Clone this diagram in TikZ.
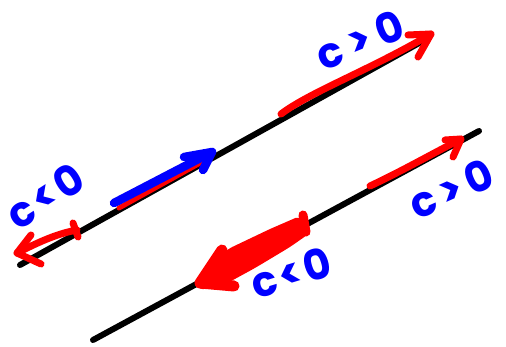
\documentclass[tikz,border=0pt]{standalone}
\usepackage{fontspec}
\newfontfamily\hand{Poppins}
\definecolor{pred}{RGB}{255,0,0}
\definecolor{pblue}{RGB}{0,0,255}
\begin{document}
\begin{tikzpicture}[x=1pt,y=-1pt,
  axis/.style={draw=black,line width=6pt,line cap=round},
  redstroke/.style={draw=pred,line width=7pt,line cap=round,line join=round},
  bluestroke/.style={draw=pblue,line width=8.5pt,line cap=round,line join=round},
  lbl/.style={text=pblue,font=\hand\bfseries\fontsize{42}{42}\selectfont,inner sep=0pt}]
\useasboundingbox (0,0) rectangle (506,347);
% black lines
\coordinate (a1) at (20,265);
\coordinate (a2) at (421,42);
\coordinate (b1) at (93,340);
\coordinate (b2) at (479,131);
\draw[axis] (a1) -- (a2);
\draw[axis] (b1) -- (b2);
% upper-left red arrow (c<0)
\coordinate (ulT) at (77,230);
\coordinate (ulH) at (17,253);
\coordinate (ulA) at (31,235);
\coordinate (ulB) at (41,264);
\coordinate (ulK1) at (73,223);
\coordinate (ulK2) at (78,237);
\draw[redstroke] (ulT) .. controls (55,234) and (35,244) .. (ulH);
\draw[redstroke] (ulA) -- (ulH) -- (ulB);
\draw[redstroke] (ulK1) -- (ulK2);
% blue arrow with red under
\coordinate (bT) at (114,203);
\coordinate (bH) at (212,152);
\coordinate (rT) at (119,208);
\coordinate (rH) at (211,157);
\coordinate (bA) at (184,157);
\coordinate (bB) at (203,170);
\draw[redstroke,line width=5pt] (rT) -- (rH);
\draw[redstroke,line width=5pt] (207,161) -- (204,170);
\draw[bluestroke] (bT) -- (bH);
\draw[bluestroke] (bA) -- (bH) -- (bB);
% upper right red arrow (c>0)
\coordinate (urT) at (281,114);
\coordinate (urH) at (431,34);
\coordinate (urA) at (408,35);
\coordinate (urB) at (418,57);
\draw[redstroke] (urT) .. controls (310,92) and (370,70) .. (urH);
\draw[redstroke] (urA) -- (urH) -- (urB);
% lower right red arrow (c>0)
\coordinate (lrT) at (370,186);
\coordinate (lrH) at (461,139);
\coordinate (lrA) at (445,140);
\coordinate (lrB) at (453,157);
\draw[redstroke] (lrT) .. controls (400,172) and (430,155) .. (lrH);
\draw[redstroke] (lrA) -- (lrH) -- (lrB);
% big lower-left red arrow (c<0)
\coordinate (llT) at (305,224);
\coordinate (llH) at (200,283);
\coordinate (llA) at (222,250);
\coordinate (llB) at (234,286);
\fill[pred,rounded corners=5pt] (300,216) -- (270,229) -- (228,249) -- (203,272) -- (198,290) -- (222,286) -- (255,268) -- (290,247) -- (310,233) -- cycle;
\draw[redstroke,line width=11pt] (llA) -- (llH) -- (llB);
\draw[redstroke,line width=9pt] (303,215) -- (306,232);
% labels
\node[lbl,rotate=33] (t1) at (45,196) {\addfontfeature{LetterSpace=8}c<0};
\node[lbl,rotate=22] (t2) at (360,40) {\addfontfeature{LetterSpace=18}c>0};
\node[lbl,rotate=24] (t3) at (451,189) {\addfontfeature{LetterSpace=14}c>0};
\node[lbl,rotate=17] (t4) at (291,273) {\addfontfeature{LetterSpace=6}c<0};
\end{tikzpicture}
\end{document}
